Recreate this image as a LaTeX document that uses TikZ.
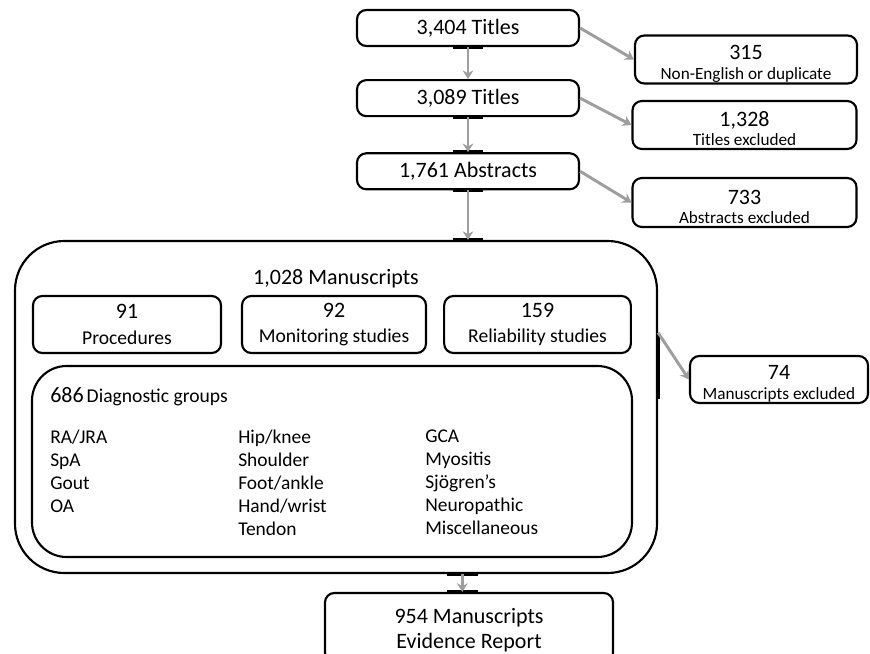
\documentclass[tikz,border=0pt]{standalone}
\usepackage{fontspec}
\setmainfont{Carlito}
\usetikzlibrary{arrows.meta,positioning}

\definecolor{arrowgray}{RGB}{158,158,158}
\newcommand{\sublabel}[1]{{\fontsize{12.9}{15}\selectfont #1}}
\newcommand{\grouplabel}[1]{{\fontsize{14.7}{17}\selectfont #1}}
\newcommand{\lowstrut}{\rule{0pt}{17pt}}

\begin{document}
\begin{tikzpicture}[
  x=0.75pt, y=-0.75pt,
  node distance=24pt,
  box/.style={draw, line width=1.6pt, rounded corners=7pt, align=center, inner sep=0pt, font=\fontsize{16.5}{19}\selectfont},
  block/.style={box, minimum width=166.5pt, minimum height=27pt},
  excl/.style={box, minimum width=168pt, minimum height=36pt},
  group/.style={box, minimum width=140pt, minimum height=42.75pt},
  frame/.style={draw, line width=1.6pt},
  list/.style={align=left, inner sep=0pt, font=\fontsize{14.6}{17.25}\selectfont},
  arrow/.style={-{Stealth[length=6.5pt,width=8pt]}, line width=2.2pt, draw=arrowgray},
  tab/.style={line width=3pt, line cap=butt}
]
\clip (0,0) rectangle (870,653);

% screening column
\node[block] (t1) at (468,28) {3,404 Titles};
\node[block, below=of t1] (t2) {3,089 Titles};
\node[block, below=26.25pt of t2] (t3) {1,761 Abstracts};

% exclusions
\node[excl, minimum width=166.5pt] (ex1) at (746,59.5) {\lowstrut 315\\[-4.5pt]\sublabel{Non-English or duplicate}};
\node[excl] (ex2) at (744.5,125) {\lowstrut 1,328\\[-4.5pt]\sublabel{Titles excluded}};
\node[excl, minimum height=36.75pt] (ex3) at (744.5,202.5) {\lowstrut 733\\[-4.5pt]\sublabel{Abstracts excluded}};

% manuscripts frame
\node[frame, rounded corners=37pt, minimum width=481.5pt, minimum height=249pt] (big) at (336,407) {};
\node[font=\fontsize{16.5}{19}\selectfont, inner sep=0pt] (mtitle) at (336,279) {1,028 Manuscripts};

\node[group, minimum width=141pt] (proc) at (127,324.5) {91\\\grouplabel{Procedures}};
\node[group, minimum width=138pt] (mon) at (334,324.5) {92\\\grouplabel{Monitoring studies}};
\node[group] (rel) at (537.5,324.5) {159\\\grouplabel{Reliability studies}};

\node[frame, rounded corners=26pt, minimum width=450pt, minimum height=143.25pt] (diag) at (332,461.5) {};
\node[anchor=west, inner sep=0pt] (dghead) at (50,397) {{\fontsize{16.5}{19}\selectfont 686} {\fontsize{14.7}{17}\selectfont Diagnostic groups}};
\node[list, anchor=north west] (col1) at (50,430) {RA/JRA\\SpA\\Gout\\OA};
\node[list, anchor=north west] (col2) at (238,430) {Hip/knee\\Shoulder\\Foot/ankle\\Hand/wrist\\Tendon};
\node[list, anchor=north west] (col3) at (425,430) {GCA\\Myositis\\Sjögren’s\\Neuropathic\\Miscellaneous};

\node[excl, minimum width=133.5pt, minimum height=35.25pt] (ex4) at (779,379.5) {\lowstrut 74\\[-4.5pt]\sublabel{Manuscripts excluded}};

\node[box, minimum width=216pt, minimum height=51.75pt] (res) at (469,627.5) {\rule{0pt}{15pt}954 Manuscripts\\Evidence Report};

% connection tabs
\draw[tab] ([xshift=-11.6pt]t1.south) -- ([xshift=11.6pt]t1.south);
\draw[tab] ([xshift=-11.6pt]t2.south) -- ([xshift=11.6pt]t2.south);
\draw[tab] ([xshift=-11.6pt]t3.north) -- ([xshift=11.6pt]t3.north);
\draw[tab] ([xshift=-11.6pt]t3.south) -- ([xshift=11.6pt]t3.south);
\draw[tab] ([xshift=-11.6pt]t3.south |- big.north) -- ([xshift=11.6pt]t3.south |- big.north);
\draw[tab] (big.13) -- ([yshift=-49.5pt]big.13);
\draw[tab] ([xshift=-16.6pt]res.north |- big.south) -- ([xshift=6.6pt]res.north |- big.south);
\draw[tab] ([xshift=-16.6pt]res.north) -- ([xshift=6.6pt]res.north);

% flow
\draw[arrow] (t1) -- (t2);
\draw[arrow] (t2) -- (t3);
\draw[arrow] (t3.south) -- (t3.south |- big.north);
\draw[arrow] (t1.east) -- (ex1.west);
\draw[arrow] (t2.east) -- (ex2.west);
\draw[arrow] (t3.east) -- (ex3.west);
\draw[arrow] (big.13) -- (ex4.west);
\draw[arrow] ([xshift=-5pt]res.north |- big.south) -- ([xshift=-5pt]res.north);
\end{tikzpicture}
\end{document}
